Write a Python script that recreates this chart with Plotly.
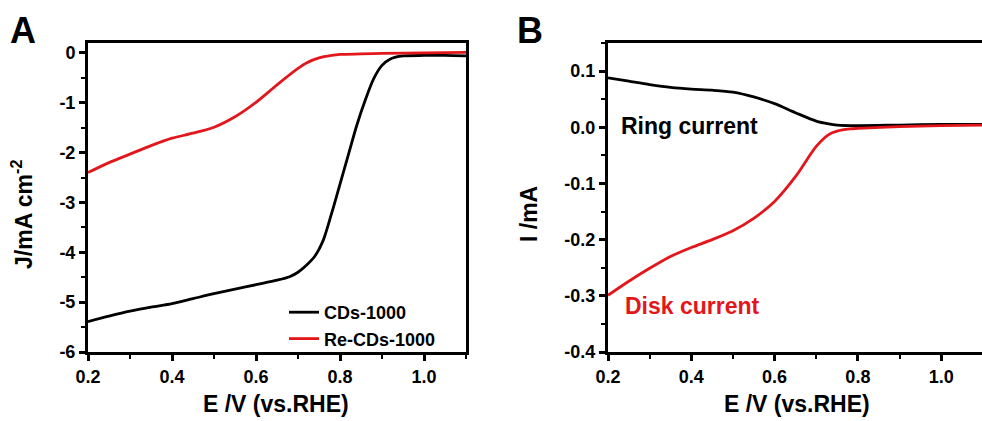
import plotly.graph_objects as go

# ---- Panel A data ----
E_cds = [0.20, 0.25, 0.30, 0.35, 0.40, 0.45, 0.50, 0.55, 0.60, 0.65, 0.68, 0.70, 0.72, 0.74, 0.76,
         0.78, 0.80, 0.82, 0.84, 0.86, 0.88, 0.90, 0.92, 0.95, 1.00, 1.05, 1.10]
J_cds = [-5.39, -5.28, -5.18, -5.10, -5.03, -4.93, -4.83, -4.74, -4.65, -4.56, -4.49, -4.40, -4.26,
         -4.08, -3.76, -3.22, -2.63, -2.04, -1.45, -0.95, -0.52, -0.25, -0.12, -0.06, -0.05, -0.05, -0.06]

E_re = [0.20, 0.25, 0.30, 0.35, 0.40, 0.45, 0.50, 0.55, 0.60, 0.65, 0.70, 0.72, 0.75, 0.78, 0.80,
        0.85, 0.90, 1.00, 1.10]
J_re = [-2.40, -2.20, -2.03, -1.86, -1.71, -1.61, -1.49, -1.28, -0.99, -0.64, -0.31, -0.20, -0.10,
        -0.05, -0.03, -0.02, -0.01, 0.00, 0.01]

# ---- Panel B data ----
E_ring = [0.20, 0.25, 0.30, 0.35, 0.40, 0.45, 0.50, 0.55, 0.60, 0.65, 0.70, 0.73, 0.75, 0.80,
          0.90, 1.00, 1.10]
I_ring = [0.088, 0.082, 0.076, 0.071, 0.068, 0.066, 0.0625, 0.054, 0.042, 0.026, 0.011, 0.006,
          0.004, 0.003, 0.004, 0.005, 0.005]

E_disk = [0.20, 0.25, 0.30, 0.35, 0.40, 0.45, 0.50, 0.55, 0.60, 0.65, 0.70, 0.73, 0.75, 0.78,
          0.80, 0.90, 1.00, 1.10]
I_disk = [-0.299, -0.274, -0.251, -0.230, -0.214, -0.200, -0.184, -0.162, -0.132, -0.088, -0.034,
          -0.013, -0.007, -0.003, -0.002, 0.001, 0.003, 0.004]

x_ticks = [0.2, 0.4, 0.6, 0.8, 1.0]
x_ticktext = ["0.2", "0.4", "0.6", "0.8", "1.0"]
yA_ticks = [0, -1, -2, -3, -4, -5, -6]
yA_ticktext = ["0", "-1", "-2", "-3", "-4", "-5", "-6"]
yB_ticks = [0.1, 0.0, -0.1, -0.2, -0.3, -0.4]
yB_ticktext = ["0.1", "0.0", "-0.1", "-0.2", "-0.3", "-0.4"]

BLACK = "#000000"
RED = "#e3161b"
FONT = "Liberation Sans"

def bold(labels):
    return ["<b>%s</b>" % t for t in labels]

fig = go.Figure()
fig.add_trace(go.Scatter(x=E_cds, y=J_cds, mode="lines", name="<b>CDs-1000</b>",
                         line=dict(color=BLACK, width=2.8, shape="spline", smoothing=0.8),
                         xaxis="x", yaxis="y"))
fig.add_trace(go.Scatter(x=E_re, y=J_re, mode="lines", name="<b>Re-CDs-1000</b>",
                         line=dict(color=RED, width=2.8, shape="spline", smoothing=0.8),
                         xaxis="x", yaxis="y"))
fig.add_trace(go.Scatter(x=E_ring, y=I_ring, mode="lines", name="Ring current", showlegend=False,
                         line=dict(color=BLACK, width=2.8, shape="spline", smoothing=0.8),
                         xaxis="x2", yaxis="y2"))
fig.add_trace(go.Scatter(x=E_disk, y=I_disk, mode="lines", name="Disk current", showlegend=False,
                         line=dict(color=RED, width=2.8, shape="spline", smoothing=0.8),
                         xaxis="x2", yaxis="y2"))

W, H = 982, 421
def px(x):
    return x / W
def py(y):
    return 1 - y / H

tickfont = dict(family=FONT, size=18, color=BLACK, weight=700)
common_x = dict(tickvals=x_ticks, ticktext=bold(x_ticktext), ticks="outside", automargin=False,
                ticklen=6, tickwidth=2.6, tickcolor=BLACK, showline=True, linewidth=3,
                linecolor=BLACK, mirror=True, showgrid=False, zeroline=False, tickfont=tickfont,
                minor=dict(dtick=0.1, tick0=0.2, ticks="outside", ticklen=4, tickwidth=2.2,
                           tickcolor=BLACK, showgrid=False))

fig.update_layout(
    width=W, height=H,
    margin=dict(l=0, r=0, t=0, b=0, autoexpand=False),
    paper_bgcolor="white", plot_bgcolor="white",
    showlegend=True,
    legend=dict(x=px(284), y=py(294), xanchor="left", yanchor="top",
                bgcolor="rgba(0,0,0,0)", borderwidth=0,
                font=dict(family=FONT, size=18, color=BLACK, weight=700),
                tracegroupgap=0, itemwidth=30),
    xaxis=dict(domain=[px(88), px(466)], anchor="y", range=[0.2, 1.1], **common_x),
    yaxis=dict(domain=[py(352), py(43)], anchor="x", range=[-6, 0.2], tickvals=yA_ticks,
               ticktext=bold(yA_ticktext), ticks="outside", ticklen=6, tickwidth=2.6, tickcolor=BLACK,
               showline=True, linewidth=3, linecolor=BLACK, mirror=True, showgrid=False,
               zeroline=False, tickfont=tickfont, automargin=False,
               minor=dict(dtick=0.5, tick0=0, ticks="outside", ticklen=4, tickwidth=2.2,
                          tickcolor=BLACK, showgrid=False)),
    xaxis2=dict(domain=[px(608), 1.0], anchor="y2", range=[0.2, 1.098], **common_x),
    yaxis2=dict(domain=[py(352), py(43)], anchor="x2", range=[-0.4, 0.15], tickvals=yB_ticks,
                ticktext=bold(yB_ticktext), ticks="outside", ticklen=6, tickwidth=2.6, tickcolor=BLACK,
                showline=True, linewidth=3, linecolor=BLACK, mirror=False, showgrid=False,
                zeroline=False, tickfont=tickfont, automargin=False,
                minor=dict(dtick=0.05, tick0=0, ticks="outside", ticklen=4, tickwidth=2.2,
                           tickcolor=BLACK, showgrid=False)),
)

titlefont = dict(family=FONT, size=23, color=BLACK, weight=700)
ann = [
    dict(text="<b>A</b>", x=px(8), y=py(8), xanchor="left", yanchor="top",
         font=dict(family=FONT, size=36, color=BLACK, weight=700)),
    dict(text="<b>B</b>", x=px(515), y=py(8), xanchor="left", yanchor="top",
         font=dict(family=FONT, size=36, color=BLACK, weight=700)),
    dict(text="<b>E /V (vs.RHE)</b>", x=px(276), y=py(404), xanchor="center", yanchor="middle",
         font=titlefont),
    dict(text="<b>E /V (vs.RHE)</b>", x=px(797), y=py(404), xanchor="center", yanchor="middle",
         font=titlefont),
    dict(text="<b>J/mA cm<sup>-2</sup></b>", x=px(22), y=py(215), xanchor="center", yanchor="middle",
         textangle=-90, font=titlefont),
    dict(text="<b>I /mA</b>", x=px(529), y=py(214), xanchor="center", yanchor="middle",
         textangle=-90, font=titlefont),
    dict(text="<b>Ring current</b>", x=px(619), y=py(126), xanchor="left", yanchor="middle",
         font=dict(family=FONT, size=23, color=BLACK, weight=700)),
    dict(text="<b>Disk current</b>", x=px(623), y=py(306), xanchor="left", yanchor="middle",
         font=dict(family=FONT, size=23, color=RED, weight=700)),
]
for a in ann:
    a.update(xref="paper", yref="paper", showarrow=False)
fig.update_layout(annotations=ann)

fig.write_html("out.html")
